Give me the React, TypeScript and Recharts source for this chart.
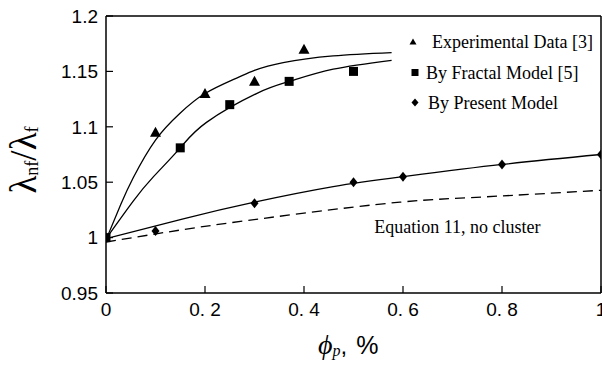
import React from 'react';
import {
  ComposedChart,
  Line,
  Scatter,
  XAxis,
  YAxis,
  ReferenceLine,
  ReferenceDot,
  Legend,
} from 'recharts';

// ---- data ----
const expX = [0.1, 0.2, 0.3, 0.4];
const expY = [1.095, 1.13, 1.141, 1.17];

const fracX = [0, 0.15, 0.25, 0.37, 0.5];
const fracY = [1.0, 1.081, 1.12, 1.141, 1.15];

const presX = [0, 0.1, 0.3, 0.5, 0.6, 0.8, 1.0];
const presY = [1.0, 1.006, 1.031, 1.05, 1.055, 1.066, 1.075];

const expCurveX = [0, 0.03, 0.055, 0.1, 0.149, 0.2, 0.264, 0.3, 0.358, 0.459, 0.577];
const expCurveY = [0.998, 1.03, 1.054, 1.088, 1.112, 1.13, 1.144, 1.151, 1.158, 1.164, 1.167];

const fracCurveX = [0, 0.055, 0.096, 0.15, 0.203, 0.304, 0.371, 0.459, 0.577];
const fracCurveY = [0.999, 1.033, 1.055, 1.081, 1.104, 1.13, 1.141, 1.152, 1.16];

const presCurveX = [0, 0.156, 0.3, 0.459, 0.6, 0.8, 1.0];
const presCurveY = [0.999, 1.017, 1.032, 1.046, 1.055, 1.066, 1.075];

const eqCurveX = [0, 0.19, 0.392, 0.594, 0.762, 1.0];
const eqCurveY = [0.996, 1.0095, 1.0216, 1.032, 1.0367, 1.0427];

const xTicks = [0, 0.2, 0.4, 0.6, 0.8, 1];
const xTickLabels = ['0', '0. 2', '0. 4', '0. 6', '0. 8', '1'];
const yTicks = [0.95, 1, 1.05, 1.1, 1.15, 1.2];
const yTickLabels = ['0.95', '1', '1.05', '1.1', '1.15', '1.2'];

const legendLabels = ['Experimental Data [3]', 'By Fractal Model [5]', 'By Present Model'];
const annotation = 'Equation 11, no cluster';

const toPts = (xs: number[], ys: number[]) => xs.map((x, i) => ({ x, y: ys[i] }));

const SERIF = '"Liberation Serif", "Times New Roman", Times, serif';
const SANS = '"Liberation Sans", Arial, Helvetica, sans-serif';

const Tri = (p: any) => {
  const { cx, cy } = p;
  if (cx == null || cy == null) return null;
  return <polygon points={`${cx},${cy - 5.5} ${cx + 5.5},${cy + 4.5} ${cx - 5.5},${cy + 4.5}`} fill="#000" />;
};
const Sq = (p: any) => {
  const { cx, cy } = p;
  if (cx == null || cy == null) return null;
  return <rect x={cx - 4.5} y={cy - 4.5} width={9} height={9} fill="#000" />;
};
const Dia = (p: any) => {
  const { cx, cy } = p;
  if (cx == null || cy == null) return null;
  return <polygon points={`${cx},${cy - 5} ${cx + 4},${cy} ${cx},${cy + 5} ${cx - 4},${cy}`} fill="#000" />;
};

const LegendBox = () => (
  <svg width={202} height={92} style={{ display: 'block' }}>
    <polygon points="13,10.5 16.5,16.5 9.5,16.5" fill="#000" />
    <text x={32} y={20} fontFamily={SERIF} fontSize={18} fill="#000">{legendLabels[0]}</text>
    <rect x={11.5} y={41} width={7} height={7} fill="#000" />
    <text x={26} y={50.5} fontFamily={SERIF} fontSize={18} fill="#000">{legendLabels[1]}</text>
    <polygon points="15,70.5 18.5,74.5 15,78.5 11.5,74.5" fill="#000" />
    <text x={28} y={80.5} fontFamily={SERIF} fontSize={18} fill="#000">{legendLabels[2]}</text>
  </svg>
);

const YTitle = () => (
  <text transform="translate(36,160) rotate(-90)" textAnchor="middle" fontFamily={SERIF} fontSize={37} fill="#000">
    λ
    <tspan fontSize={18} dy={2}>nf</tspan>
    <tspan dy={-2}>/λ</tspan>
    <tspan fontSize={18} dy={2}>f</tspan>
  </text>
);

const XTitle = () => (
  <text x={318} y={354} fill="#000">
    <tspan fontFamily={SERIF} fontStyle="italic" fontSize={28}>ϕ</tspan>
    <tspan fontFamily={SERIF} fontStyle="italic" fontSize={16} dy={2}>p</tspan>
    <tspan fontFamily={SANS} fontSize={24} dy={-2}>,</tspan>
    <tspan fontFamily={SANS} fontSize={25} dx={9}>%</tspan>
  </text>
);

export default function App() {
  return (
    <div
      style={{
        position: 'absolute',
        left: 0,
        top: 0,
        width: 602,
        height: 366,
        overflow: 'hidden',
        background: '#fff',
      }}
    >
      <ComposedChart width={622} height={366} margin={{ top: 16, right: 21, bottom: 0, left: 0 }}>
        <XAxis
          dataKey="x"
          type="number"
          domain={[0, 1]}
          ticks={xTicks}
          allowDataOverflow
          height={73}
          axisLine={{ stroke: '#000', strokeWidth: 1.5 }}
          tickLine={{ stroke: '#000', strokeWidth: 1.2 }}
          tickSize={-7}
          tickMargin={17}
          tick={{ fill: '#000', fontSize: 19, fontFamily: SANS }}
          tickFormatter={(v: number) => xTickLabels[xTicks.indexOf(v)] ?? String(v)}
          label={<XTitle />}
        />
        <YAxis
          dataKey="y"
          type="number"
          domain={[0.95, 1.2]}
          ticks={yTicks}
          allowDataOverflow
          width={106}
          axisLine={{ stroke: '#000', strokeWidth: 1.5 }}
          tickLine={{ stroke: '#000', strokeWidth: 1.2 }}
          tickSize={-7}
          tickMargin={15}
          tick={{ fill: '#000', fontSize: 19, fontFamily: SANS }}
          tickFormatter={(v: number) => yTickLabels[yTicks.indexOf(v)] ?? String(v)}
          label={<YTitle />}
        />
        <ReferenceLine y={1.2} stroke="#000" strokeWidth={1.5} />
        <ReferenceLine x={1} stroke="#000" strokeWidth={1.5} />

        <Line data={toPts(eqCurveX, eqCurveY)} dataKey="y" type="natural" stroke="#000" strokeWidth={1.3}
          strokeDasharray="10 6" dot={false} isAnimationActive={false} legendType="none" />
        <Line data={toPts(presCurveX, presCurveY)} dataKey="y" type="natural" stroke="#000" strokeWidth={1.3}
          dot={false} isAnimationActive={false} legendType="none" />
        <Line data={toPts(fracCurveX, fracCurveY)} dataKey="y" type="natural" stroke="#000" strokeWidth={1.3}
          dot={false} isAnimationActive={false} legendType="none" />
        <Line data={toPts(expCurveX, expCurveY)} dataKey="y" type="natural" stroke="#000" strokeWidth={1.3}
          dot={false} isAnimationActive={false} legendType="none" />

        <Scatter name={legendLabels[2]} data={toPts(presX, presY)} dataKey="y" shape={Dia} isAnimationActive={false} />
        <Scatter name={legendLabels[1]} data={toPts(fracX, fracY)} dataKey="y" shape={Sq} isAnimationActive={false} />
        <Scatter name={legendLabels[0]} data={toPts(expX, expY)} dataKey="y" shape={Tri} isAnimationActive={false} />

        <ReferenceDot
          x={0.71}
          y={1.0097}
          r={0}
          fill="none"
          stroke="none"
          label={{ value: annotation, position: 'center', fill: '#000', fontSize: 18, fontFamily: SERIF }}
        />

        <Legend
          layout="horizontal"
          verticalAlign="middle"
          align="center"
          wrapperStyle={{ left: 400, top: 28, width: 202, height: 92 }}
          content={() => <LegendBox />}
        />
      </ComposedChart>
    </div>
  );
}
